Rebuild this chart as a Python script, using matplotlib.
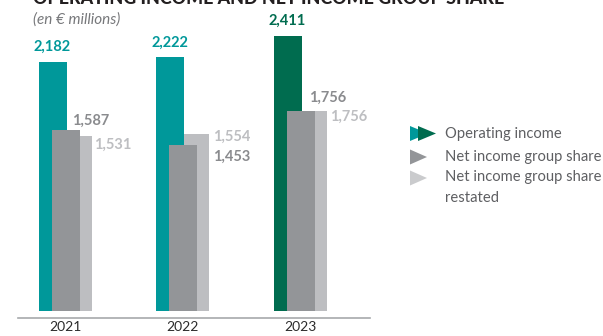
import matplotlib
matplotlib.use("Agg")
import matplotlib.pyplot as plt
from matplotlib.patches import Polygon

# ---- data (EUR millions) ----
years = ["2021", "2022", "2023"]
operating_income = [2182, 2222, 2411]
net_income_group_share = [1587, 1453, 1756]
net_income_restated = [1531, 1554, 1756]

# ---- styling ----
TEAL = "#00989A"
GREEN = "#006C4F"
DARK_GREY = "#939598"
LIGHT_GREY = "#BDBEC1"
DARK_LABEL = "#8A8B8E"
LIGHT_LABEL = "#BDBEC1"
TEXT = "#2B2B2B"
LEGEND_TEXT = "#5E5F62"
FONT = "Lato"

W, H = 603, 336
fig = plt.figure(figsize=(W / 100, H / 100), dpi=100)

# chart axes placed in pixel terms: baseline at y=311, axis line at 318
px_per_unit = 0.1141
ax_left, ax_right = 18, 370
ax_bottom_px, baseline_px = 318, 311
ax = fig.add_axes([ax_left / W, (H - ax_bottom_px) / H,
                   (ax_right - ax_left) / W, ax_bottom_px / H])
group_px = 117.5
first_center_px = 65
x0 = (ax_left - first_center_px) / group_px
x1 = (ax_right - first_center_px) / group_px
ax.set_xlim(x0, x1)
ax.set_ylim(-(ax_bottom_px - baseline_px) / px_per_unit, baseline_px / px_per_unit)

bw = 28 / group_px
off_op, off_net, off_rest = -12.5 / group_px, 0.5 / group_px, 12.5 / group_px
xs = list(range(len(years)))
op_colors = [TEAL, TEAL, GREEN]

ax.bar([x + off_rest for x in xs], net_income_restated, width=bw,
       color=LIGHT_GREY, zorder=1)
ax.bar([x + off_op for x in xs], operating_income, width=bw,
       color=op_colors, zorder=2)
ax.bar([x + off_net for x in xs], net_income_group_share, width=bw,
       color=DARK_GREY, zorder=3)

# value labels
for i, v in enumerate(operating_income):
    ax.annotate(f"{v:,}", xy=(xs[i] + off_op, v), xytext=(0, 8),
                textcoords="offset pixels", ha="center", va="bottom",
                fontsize=10.5, fontweight="bold", color=op_colors[i],
                family=FONT)

net_offsets = [(25, 9), (49, -12), (27, 13)]
for i, v in enumerate(net_income_group_share):
    ax.annotate(f"{v:,}", xy=(xs[i] + off_net, v), xytext=net_offsets[i],
                textcoords="offset pixels", ha="center", va="center",
                fontsize=10.5, fontweight="bold", color=DARK_LABEL,
                family=FONT)

rest_offsets = [(35, -8), (37, -3), (36, -6)]
for i, v in enumerate(net_income_restated):
    ax.annotate(f"{v:,}", xy=(xs[i] + off_rest, v), xytext=rest_offsets[i],
                textcoords="offset pixels", ha="center", va="center",
                fontsize=10.5, fontweight="bold", color=LIGHT_LABEL,
                family=FONT)

for s in ["top", "right", "left"]:
    ax.spines[s].set_visible(False)
ax.spines["bottom"].set_color("#A7A9AC")
ax.spines["bottom"].set_linewidth(1.2)
ax.set_yticks([])
ax.set_xticks(xs)
ax.set_xticklabels(years, fontsize=10, color=TEXT, family=FONT)
ax.tick_params(axis="x", length=0, pad=2.5)

# overlay in pixel coordinates for title and legend
ov = fig.add_axes([0, 0, 1, 1], zorder=5)
ov.set_xlim(0, W)
ov.set_ylim(H, 0)
ov.axis("off")

ov.text(33, 4, "OPERATING INCOME AND NET INCOME GROUP SHARE",
        fontsize=12.9, fontweight="black", color="#231F20", family=FONT,
        ha="left", va="baseline")
ov.text(33, 20, "(en € millions)", fontsize=11, style="italic",
        color="#77787B", family=FONT, ha="left", va="center")

def tri(x, y, w, h, color):
    ov.add_patch(Polygon([(x, y - h / 2), (x, y + h / 2), (x + w, y)],
                         closed=True, color=color, lw=0))

tri(410, 133.5, 18, 15, TEAL)
tri(418, 133.5, 18, 15, GREEN)
tri(410, 157, 17, 15, DARK_GREY)
tri(410, 178, 17, 15, "#CACBCD")

leg_kw = dict(fontsize=10.6, color=LEGEND_TEXT, family=FONT,
              ha="left", va="center")
ov.text(445, 134, "Operating income", **leg_kw)
ov.text(445, 157, "Net income group share", **leg_kw)
ov.text(445, 177, "Net income group share", **leg_kw)
ov.text(445, 198, "restated", **leg_kw)

fig.savefig("out.png", dpi=100)
